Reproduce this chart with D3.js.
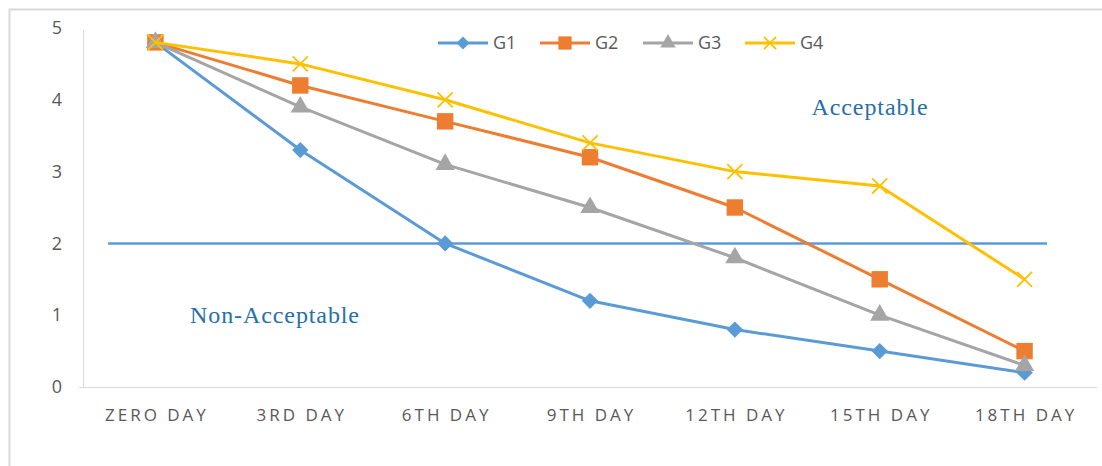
<!DOCTYPE html>
<html>
<head>
<meta charset="utf-8">
<script src="https://cdn.jsdelivr.net/npm/d3@7/dist/d3.min.js"></script>
<style>
  html, body { margin: 0; padding: 0; background: #fff; }
  svg { display: block; }
</style>
</head>
<body>
<svg id="chart" width="1102" height="466"></svg>
<script>
// Sensory score per storage day
const days = ["ZERO DAY", "3RD DAY", "6TH DAY", "9TH DAY", "12TH DAY", "15TH DAY", "18TH DAY"];
const seriesNames = ["G1", "G2", "G3", "G4"];
const g1 = [4.8, 3.3, 2.0, 1.2, 0.8, 0.5, 0.2];
const g2 = [4.8, 4.2, 3.7, 3.2, 2.5, 1.5, 0.5];
const g3 = [4.8, 3.9, 3.1, 2.5, 1.8, 1.0, 0.3];
const g4 = [4.8, 4.5, 4.0, 3.4, 3.0, 2.8, 1.5];
const yTicks = [0, 1, 2, 3, 4, 5];
const threshold = 2;

const colors = { G1: "#5b9bd5", G2: "#ed7d31", G3: "#a5a5a5", G4: "#ffc000" };
const symbols = { G1: d3.symbolDiamond2, G2: d3.symbolSquare, G3: d3.symbolTriangle, G4: d3.symbolX };
const markerSize = { G1: 170, G2: 270, G3: 160, G4: 150 };
const series = [
  { name: "G1", values: g1 },
  { name: "G2", values: g2 },
  { name: "G3", values: g3 },
  { name: "G4", values: g4 }
];

const svg = d3.select("#chart");

// outer frame
svg.append("rect")
  .attr("x", 9.5).attr("y", 9.5)
  .attr("width", 1102).attr("height", 470)
  .attr("fill", "#fff").attr("stroke", "#d9d9d9").attr("stroke-width", 2);

const plot = { left: 83, right: 1097, top: 28, bottom: 387 };

const x = d3.scaleBand().domain(days).range([plot.left, plot.right]);
const y = d3.scaleLinear().domain([0, 5]).range([plot.bottom, plot.top]);
const cx = d => x(d) + x.bandwidth() / 2;

// axes lines
svg.append("line")
  .attr("x1", plot.left + 0.5).attr("x2", plot.left + 0.5)
  .attr("y1", y(5) + 2).attr("y2", plot.bottom)
  .attr("stroke", "#d9d9d9").attr("stroke-width", 1);
svg.append("line")
  .attr("x1", plot.left - 4).attr("x2", plot.right)
  .attr("y1", plot.bottom + 0.5).attr("y2", plot.bottom + 0.5)
  .attr("stroke", "#d9d9d9").attr("stroke-width", 1);

// y tick labels
const yAxis = d3.axisLeft(y).tickValues(yTicks).tickSize(0).tickPadding(0).tickFormat(d3.format("d"));
const yg = svg.append("g").attr("transform", `translate(62,0)`).call(yAxis);
yg.select(".domain").remove();
yg.selectAll("text")
  .attr("font-family", "'Open Sans', 'DejaVu Sans', sans-serif")
  .attr("font-size", 18).attr("fill", "#595959");

// x category labels
const xAxis = d3.axisBottom(x).tickSize(0).tickPadding(0);
const xg = svg.append("g").attr("transform", `translate(0,${plot.bottom + 22})`).call(xAxis);
xg.select(".domain").remove();
xg.selectAll("text")
  .attr("font-family", "'Open Sans', 'DejaVu Sans', sans-serif")
  .attr("font-size", 17).attr("fill", "#595959")
  .attr("letter-spacing", "3px")
  .attr("dx", "1.5px")
  .attr("dy", "0.71em");

// threshold line
svg.append("line")
  .attr("x1", 108).attr("x2", 1047)
  .attr("y1", y(threshold)).attr("y2", y(threshold))
  .attr("stroke", "#5b9bd5").attr("stroke-width", 2.5);

// zone labels
svg.append("text")
  .attr("x", 870).attr("y", y(4) + 15)
  .attr("text-anchor", "middle")
  .attr("font-family", "'Liberation Serif', 'Times New Roman', serif")
  .attr("font-size", 24).attr("letter-spacing", "0.9px")
  .attr("fill", "#2670aa")
  .text("Acceptable");
svg.append("text")
  .attr("x", 275).attr("y", y(1) + 8)
  .attr("text-anchor", "middle")
  .attr("font-family", "'Liberation Serif', 'Times New Roman', serif")
  .attr("font-size", 24).attr("letter-spacing", "0.9px")
  .attr("fill", "#2670aa")
  .text("Non-Acceptable");

// series lines
const line = d3.line().x((v, i) => cx(days[i])).y(v => y(v));

function drawMarker(g, name, px, py, size) {
  const path = g.append("path")
    .attr("d", d3.symbol().type(symbols[name]).size(size)())
    .attr("transform", `translate(${px},${py})`);
  if (name === "G4") {
    path.attr("fill", "none").attr("stroke", colors[name]).attr("stroke-width", 1.8);
  } else {
    path.attr("fill", colors[name]);
  }
}

series.forEach(s => {
  const g = svg.append("g");
  g.append("path")
    .datum(s.values)
    .attr("d", line)
    .attr("fill", "none")
    .attr("stroke", colors[s.name])
    .attr("stroke-width", 3)
    .attr("stroke-linejoin", "round");
  s.values.forEach((v, i) => drawMarker(g, s.name, cx(days[i]), y(v), markerSize[s.name]));
});

// legend
const legendX = [438, 540, 643, 745];
const legendY = 43;
seriesNames.forEach((name, i) => {
  const g = svg.append("g");
  g.append("line")
    .attr("x1", legendX[i]).attr("x2", legendX[i] + 50)
    .attr("y1", legendY).attr("y2", legendY)
    .attr("stroke", colors[name]).attr("stroke-width", 3);
  drawMarker(g, name, legendX[i] + 25, legendY, markerSize[name] * 0.65);
  g.append("text")
    .attr("x", legendX[i] + 55).attr("y", legendY)
    .attr("dy", "0.35em")
    .attr("font-family", "'Open Sans', 'DejaVu Sans', sans-serif")
    .attr("font-size", 18).attr("fill", "#595959")
    .text(name);
});
</script>
</body>
</html>
